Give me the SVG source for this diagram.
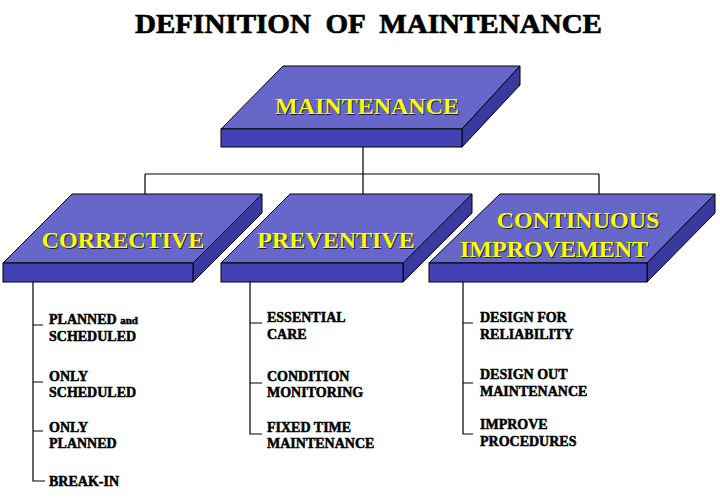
<svg xmlns="http://www.w3.org/2000/svg" width="720" height="498" viewBox="0 0 720 498">
<style>
.top{fill:#6767c9;stroke:#000;stroke-width:1}
.front{fill:#4242b6;stroke:#000;stroke-width:1}
.side{fill:#3a3a9e;stroke:#000;stroke-width:1}
.lbl{font-family:"Liberation Serif","Times New Roman",serif;font-weight:bold;font-size:24px;text-anchor:middle}
.sh{fill:#1a1a40}
.yl{fill:#ffff00}
.item{font-family:"Liberation Serif","Times New Roman",serif;font-weight:bold;font-size:14px;fill:#000;stroke:#000;stroke-width:0.5}
.ln{stroke:#000;stroke-width:1.2;fill:none}
.title{font-family:"Liberation Serif","Times New Roman",serif;font-weight:bold;font-size:28px;fill:#000;stroke:#000;stroke-width:0.7}
</style>
<rect width="720" height="498" fill="#fff"/>
<text class="title" x="135" y="33" textLength="467" lengthAdjust="spacingAndGlyphs" xml:space="preserve">DEFINITION  OF  MAINTENANCE</text>

<g id="connectors">
<path class="ln" d="M363,147 V174 M145,174 H599 M145,174 V202 M363,174 V202 M599,174 V202"/>
<path class="ln" d="M33,282 V481 H45 M33,325 H43 M33,382 H43 M33,431 H43"/>
<path class="ln" d="M250,282 V434 H262 M250,323 H262 M250,383 H262"/>
<path class="ln" d="M463,282 V434 H473 M463,323 H473 M463,383 H473"/>
</g>

<g id="maintenance">
<polygon class="top" points="283,66 520,66 462,129 221,129"/>
<polygon class="side" points="462,129 520,66 520,85 462,147"/>
<rect class="front" x="221" y="129" width="241" height="18"/>
<text class="lbl sh" x="368" y="115">MAINTENANCE</text>
<text class="lbl yl" x="367" y="114">MAINTENANCE</text>
</g>

<g id="corrective">
<polygon class="top" points="72,194 262,194 193,263 3,263"/>
<polygon class="side" points="193,263 262,194 262,213 193,282"/>
<rect class="front" x="3" y="263" width="190" height="19"/>
<text class="lbl sh" x="124" y="249">CORRECTIVE</text>
<text class="lbl yl" x="123" y="248">CORRECTIVE</text>
</g>

<g id="preventive">
<polygon class="top" points="290,194 472,194 403,263 221,263"/>
<polygon class="side" points="403,263 472,194 472,213 403,282"/>
<rect class="front" x="221" y="263" width="182" height="19"/>
<text class="lbl sh" x="337" y="249">PREVENTIVE</text>
<text class="lbl yl" x="336" y="248">PREVENTIVE</text>
</g>

<g id="continuous">
<polygon class="top" points="500,194 715,194 647,263 429,263"/>
<polygon class="side" points="647,263 715,194 715,213 647,282"/>
<rect class="front" x="429" y="263" width="218" height="19"/>
<text class="lbl sh" x="579" y="229">CONTINUOUS</text>
<text class="lbl yl" x="578" y="228">CONTINUOUS</text>
<text class="lbl sh" x="555" y="258">IMPROVEMENT</text>
<text class="lbl yl" x="554" y="257">IMPROVEMENT</text>
</g>

<g id="corrective-items">
<text class="item" x="49" y="324">PLANNED <tspan font-size="11">and</tspan></text>
<text class="item" x="49" y="341">SCHEDULED</text>
<text class="item" x="49" y="381">ONLY</text>
<text class="item" x="49" y="397">SCHEDULED</text>
<text class="item" x="49" y="432">ONLY</text>
<text class="item" x="49" y="448">PLANNED</text>
<text class="item" x="49" y="486">BREAK-IN</text>
</g>

<g id="preventive-items">
<text class="item" x="267" y="322">ESSENTIAL</text>
<text class="item" x="267" y="339">CARE</text>
<text class="item" x="267" y="381">CONDITION</text>
<text class="item" x="267" y="397">MONITORING</text>
<text class="item" x="267" y="432">FIXED TIME</text>
<text class="item" x="267" y="448">MAINTENANCE</text>
</g>

<g id="improvement-items">
<text class="item" x="480" y="322">DESIGN FOR</text>
<text class="item" x="480" y="339">RELIABILITY</text>
<text class="item" x="480" y="379">DESIGN OUT</text>
<text class="item" x="480" y="396">MAINTENANCE</text>
<text class="item" x="480" y="429">IMPROVE</text>
<text class="item" x="480" y="446">PROCEDURES</text>
</g>
</svg>
